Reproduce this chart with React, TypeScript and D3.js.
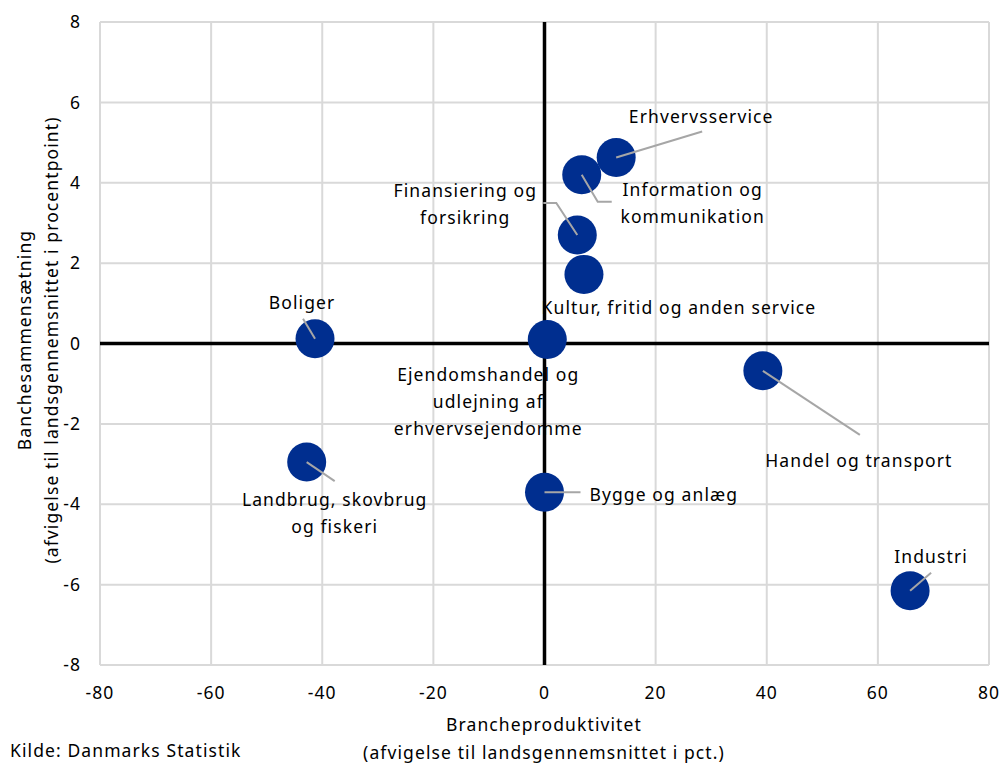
import React from "react";
import * as d3 from "d3";

const names = [
  "Erhvervsservice",
  "Information og kommunikation",
  "Finansiering og forsikring",
  "Kultur, fritid og anden service",
  "Ejendomshandel og udlejning af erhvervsejendomme",
  "Boliger",
  "Landbrug, skovbrug og fiskeri",
  "Bygge og anlæg",
  "Handel og transport",
  "Industri",
];
const productivity = [12.9, 6.7, 5.9, 7.1, 0.5, -41.3, -42.8, 0.0, 39.3, 65.8];
const composition = [4.63, 4.2, 2.7, 1.72, 0.1, 0.12, -2.95, -3.7, -0.68, -6.15];
const xTicks = [-80, -60, -40, -20, 0, 20, 40, 60, 80];
const yTicks = [8, 6, 4, 2, 0, -2, -4, -6, -8];

// label layout (pixel offsets from point centre)
type Lab = { lines: string[]; dx: number; dy: number; anchor: string; leader: [number, number][] };
const labels: Lab[] = [
  { lines: ["Erhvervsservice"], dx: 85, dy: -41, anchor: "middle", leader: [[86, -26]] },
  { lines: ["Information og", "kommunikation"], dx: 111, dy: 15, anchor: "middle", leader: [[16, 27], [30, 27]] },
  { lines: ["Finansiering og", "forsikring"], dx: -112, dy: -44, anchor: "middle", leader: [[-21, -32], [-34, -32]] },
  { lines: ["Kultur, fritid og anden service"], dx: 95, dy: 33, anchor: "middle", leader: [] },
  { lines: ["Ejendomshandel og", "udlejning af", "erhvervsejendomme"], dx: -59, dy: 35, anchor: "middle", leader: [] },
  { lines: ["Boliger"], dx: -13, dy: -36, anchor: "middle", leader: [[-12, -20]] },
  { lines: ["Landbrug, skovbrug", "og fiskeri"], dx: 28, dy: 38, anchor: "middle", leader: [[28, 19]] },
  { lines: ["Bygge og anlæg"], dx: 45, dy: 3, anchor: "start", leader: [[36, 0]] },
  { lines: ["Handel og transport"], dx: 96, dy: 90, anchor: "middle", leader: [[97, 64]] },
  { lines: ["Industri"], dx: 21, dy: -34, anchor: "middle", leader: [[21, -18]] },
];

const W = 1002, H = 766;
const L = 100, R = 989, T = 22, B = 665;
const font = "'Noto Sans', sans-serif";
const FS = 17.5;
const LS = 1.1;

export default function App() {
  const x = d3.scaleLinear().domain([-80, 80]).range([L, R]);
  const y = d3.scaleLinear().domain([-8, 8]).range([B, T]);
  const grid = "#d9d9d9";
  return (
    <svg width={W} height={H} style={{ position: "absolute", left: 0, top: 0, background: "#fff" }} fontFamily={font} letterSpacing={LS}>
      <rect x={0} y={0} width={W} height={H} fill="#fff" />
      {xTicks.map((t) => (
        <line key={"gx" + t} x1={x(t)} x2={x(t)} y1={T} y2={B} stroke={grid} strokeWidth={2} />
      ))}
      {yTicks.map((t) => (
        <line key={"gy" + t} x1={L} x2={R} y1={y(t)} y2={y(t)} stroke={grid} strokeWidth={2} />
      ))}
      <line x1={x(0)} x2={x(0)} y1={T} y2={B} stroke="#000" strokeWidth={3.5} />
      <line x1={L} x2={R} y1={y(0)} y2={y(0)} stroke="#000" strokeWidth={3.5} />
      {yTicks.map((t) => (
        <text key={"ty" + t} x={81} y={y(t)} dy="0.35em" textAnchor="end" fontSize={FS} fill="#000">
          {t}
        </text>
      ))}
      {xTicks.map((t) => (
        <text key={"tx" + t} x={x(t)} y={699} textAnchor="middle" fontSize={FS} fill="#000">
          {t}
        </text>
      ))}
      <text x={544} y={731} textAnchor="middle" fontSize={FS}>Brancheproduktivitet</text>
      <text x={544} y={759} textAnchor="middle" fontSize={FS}>(afvigelse til landsgennemsnittet i pct.)</text>
      <text x={10} y={757} fontSize={FS}>Kilde: Danmarks Statistik</text>
      <g transform="translate(0,340) rotate(-90)">
        <text x={0} y={31} textAnchor="middle" fontSize={FS}>Banchesammensætning</text>
        <text x={0} y={58} textAnchor="middle" fontSize={FS}>(afvigelse til landsgennemsnittet i procentpoint)</text>
      </g>
      {names.map((n, i) => (
        <circle key={"c" + n} cx={x(productivity[i])} cy={y(composition[i])} r={19.5} fill="#002e8f" />
      ))}
      {names.map((n, i) => {
        const cx = x(productivity[i]);
        const cy = y(composition[i]);
        const lab = labels[i];
        if (!lab.leader.length) return null;
        const pts = [[cx, cy], ...lab.leader.map(([a, b]) => [cx + a, cy + b])];
        return <polyline key={"l" + n} points={pts.map((p) => p.join(",")).join(" ")} fill="none" stroke="#a6a6a6" strokeWidth={2} />;
      })}
      {names.map((n, i) => {
        const cx = x(productivity[i]);
        const cy = y(composition[i]);
        const lab = labels[i];
        return (
          <text key={"t" + n} x={cx + lab.dx} y={cy + lab.dy} textAnchor={lab.anchor} fontSize={FS} fill="#000">
            {lab.lines.map((ln, k) => (
              <tspan key={k} x={cx + lab.dx} dy={k === 0 ? "0.35em" : 27}>{ln}</tspan>
            ))}
          </text>
        );
      })}
    </svg>
  );
}
